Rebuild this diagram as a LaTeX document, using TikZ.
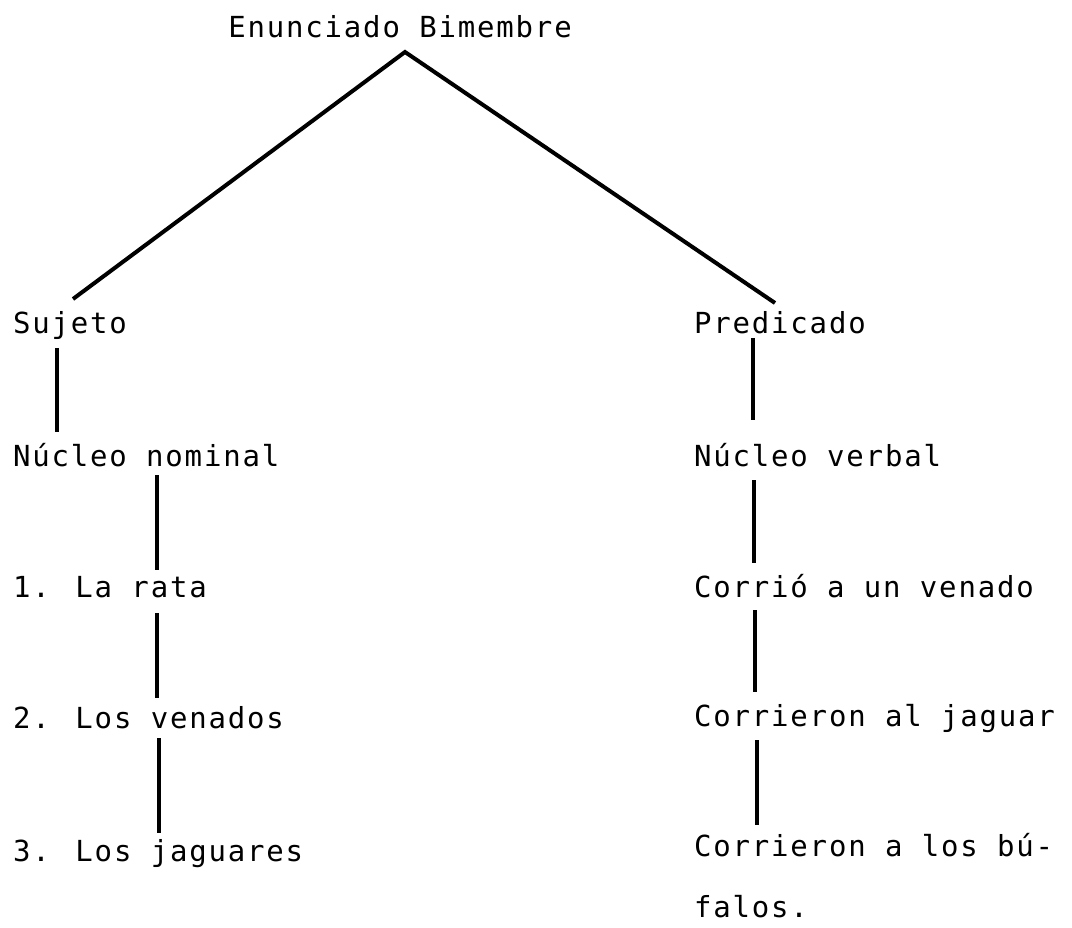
\documentclass[tikz,border=0pt]{standalone}
\usepackage{fontspec}
\newfontfamily\tw[LetterSpace=6.3]{DejaVu Sans Mono}
\begin{document}
\begin{tikzpicture}[x=1pt,y=-1pt,
  lbl/.style={inner sep=0pt,outer sep=0pt,anchor=base west,font=\tw\fontsize{29}{32}\selectfont},
  ttl/.style={lbl,anchor=base},
  conn/.style={line width=4pt,black}]
\useasboundingbox[fill=white] (0,0) rectangle (1072,928);
% texts
\node[ttl] (root) at (400,38) {Enunciado Bimembre};
\node[lbl] (suj) at (13,334) {Sujeto};
\node[lbl] (pred) at (694,334) {Predicado};
\node[lbl] (nn) at (13,466) {Núcleo nominal};
\node[lbl] (nv) at (694,466) {Núcleo verbal};
\node[lbl] (l1) at (13,597) {1. La rata};
\node[lbl] (r1) at (694,597) {Corrió a un venado};
\node[lbl] (l2) at (13,728) {2. Los venados};
\node[lbl] (r2) at (694,726) {Corrieron al jaguar};
\node[lbl] (l3) at (13,861) {3. Los jaguares};
\node[lbl] (r3) at (694,856) {Corrieron a los bú-};
\node[lbl] (r3b) at (694,917) {falos.};
% connector end points
\coordinate (top) at (405,52);
\coordinate (sujT) at (73,299);
\coordinate (predT) at (775,303);
\coordinate (sujB) at (57,348);
\coordinate (nnT) at (57,432);
\coordinate (nnB) at (157,475);
\coordinate (l1T) at (157,570);
\coordinate (l1B) at (157,613);
\coordinate (l2T) at (157,698);
\coordinate (l2B) at (159,738);
\coordinate (l3T) at (159,833);
\coordinate (predB) at (753,338);
\coordinate (nvT) at (753,420);
\coordinate (nvB) at (754,480);
\coordinate (r1T) at (754,563);
\coordinate (r1B) at (755,610);
\coordinate (r2T) at (755,692);
\coordinate (r2B) at (757,740);
\coordinate (r3T) at (757,825);
% connectors
\draw[conn] (sujT) -- (top) -- (predT);
\draw[conn] (sujB) -- (nnT);
\draw[conn] (nnB) -- (l1T);
\draw[conn] (l1B) -- (l2T);
\draw[conn] (l2B) -- (l3T);
\draw[conn] (predB) -- (nvT);
\draw[conn] (nvB) -- (r1T);
\draw[conn] (r1B) -- (r2T);
\draw[conn] (r2B) -- (r3T);
\end{tikzpicture}
\end{document}
